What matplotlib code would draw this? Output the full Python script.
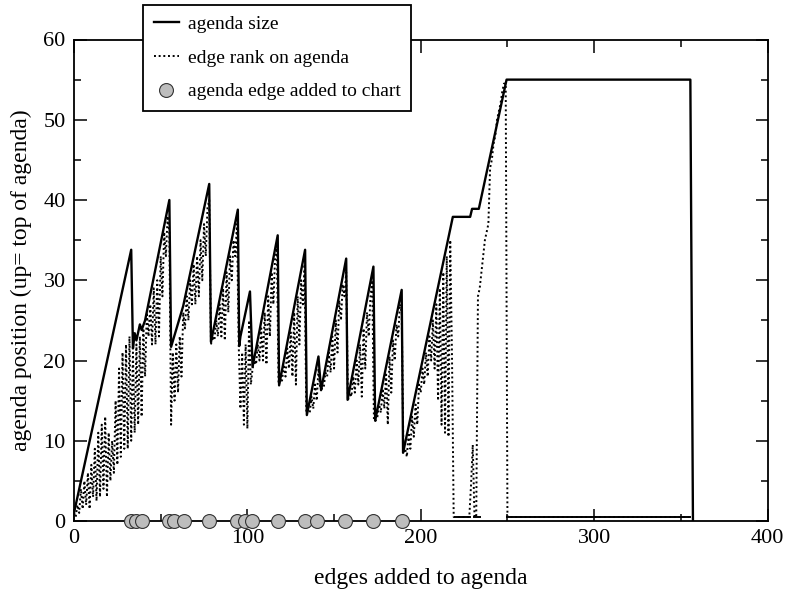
import numpy as np
import matplotlib
matplotlib.use("Agg")
import matplotlib.pyplot as plt
from matplotlib.lines import Line2D

plt.rcParams['font.family'] = ['Liberation Serif', 'DejaVu Serif']

# agenda size (solid line), break points
size_x = [0, 33, 34, 35, 36, 38, 39, 41, 55, 56, 63, 78, 79, 94.5, 95.3, 96, 101.5,
          103, 117.5, 118.3, 133.3, 134.3, 141, 142.5, 157, 157.8, 172.7, 173.7,
          189, 189.8, 218.5, 228.5, 229.6, 233.5, 249.5, 355.5, 357]
size_y = [1, 33.8, 21.5, 23.4, 22.5, 24.5, 23.8, 25, 40, 21.7, 26.8, 42, 22.3, 38.8,
          21.8, 23, 28.6, 19.2, 35.6, 16.9, 33.8, 13.2, 20.5, 16.3, 32.7, 15.1, 31.7,
          12.5, 28.8, 8.5, 37.9, 37.9, 38.9, 38.9, 55, 55, 0]

# edge rank on agenda (dotted line), one value per edge 0..250, then the tail
rank_y = [
    1, 0.5, 2, 1, 4, 1.5, 5, 2, 6, 1.5,            # 0
    7, 3, 9, 2.5, 11, 3, 12, 4, 13, 3,             # 10
    11, 5, 10, 6, 15, 7, 19, 8, 21, 9,             # 20
    22, 9, 23, 10, 21, 11, 22, 12, 23, 13,         # 30
    24, 18, 26, 23, 27, 22, 29, 22, 30, 23,        # 40
    33, 28, 36, 33, 38, 36, 12, 21, 15, 22,        # 50
    16, 23, 18, 26, 24, 28, 25, 30, 27, 32,        # 60
    27, 33, 28, 35, 30, 37, 33, 39, 40, 22,        # 70
    23, 22.5, 25, 23, 27, 23, 29, 22.5, 31, 26,    # 80
    33, 30, 35, 33, 37, 22, 14, 21, 12, 22,        # 90
    11.5, 25, 17, 19, 20, 19.5, 22, 20, 24, 20,    # 100
    26, 19.5, 28, 23, 31, 27, 33, 34, 17, 17.5,    # 110
    17.5, 19.5, 18, 21.5, 19, 23.5, 18, 26, 17, 28, # 120
    22, 30, 27, 32, 13.5, 13.8, 13.5, 15.5, 14, 17, # 130
    15, 19, 16.5, 16.5, 16.5, 18.5, 18, 21, 18.5, 23, # 140
    19, 25, 21, 27.5, 25, 29.5, 28, 31, 15, 16,    # 150
    15.5, 18, 16, 20, 17, 22, 15.5, 24, 19, 26,    # 160
    23, 28, 30, 12.5, 12.5, 13, 14.5, 13.5, 16.5, 14, # 170
    18.5, 12, 20.5, 16, 22.5, 20, 24.5, 23, 27, 26, # 180
    8.5, 9, 8, 11, 9, 13, 10.5, 14.5, 12, 17,      # 190
    16, 19, 17, 21, 18, 23, 20, 25, 19, 27,        # 200
    15, 29, 12, 31, 11, 33, 10.5, 35, 21, 0.5,     # 210
    0.5, 0.5, 0.5, 0.5, 0.5, 0.5, 0.5, 0.5, 0.5, 4.5, # 220
    9.5, 0.5, 0.5, 28, 29, 31, 33, 35, 36, 37,     # 230
    44, 45, 47, 48, 50, 51, 52, 53.5, 54.5, 54.5,  # 240
    0.5, 0.5,                                       # 250, 355
]
rank_x = list(range(251)) + [355]

# parts of the rank line that sit flat at the bottom (drawn solid in the original)
flat_x = [219.5, 228.5, np.nan, 231, 234, np.nan, 250, 355.5]
flat_y = [0.5, 0.5, np.nan, 0.5, 0.5, np.nan, 0.5, 0.5]

# agenda edges added to chart
chart_x = [32.7, 35.6, 39.4, 54.8, 57.7, 63.5, 77.9, 94.2, 98.4, 102.5,
           117.9, 133.3, 140, 156.3, 172.7, 189]
chart_y = [0] * len(chart_x)

dots = (0, (1, 1.4))

fig = plt.figure(figsize=(7.85, 5.9), dpi=100)
ax = fig.add_axes([74 / 785, 1 - 521 / 590, 693.5 / 785, 481.5 / 590])

ax.plot(rank_x, rank_y, color='black', lw=1.4, ls=dots)
ax.plot(flat_x, flat_y, color='black', lw=1.4)
ax.plot(size_x, size_y, color='black', lw=1.7)
ax.plot(chart_x, chart_y, ls='none', marker='o', ms=10, mfc='#bdbdbd',
        mec='#333333', mew=0.8, clip_on=False, zorder=4)

ax.set_xlim(0, 400)
ax.set_ylim(0, 60)
ax.set_xticks([0, 100, 200, 300, 400])
ax.set_xticks([50, 150, 250, 350], minor=True)
ax.set_yticks(range(0, 61, 10))
ax.set_yticks(range(5, 60, 10), minor=True)
ax.tick_params(which='both', direction='in', top=True, right=True, width=1.1,
               labelsize=16)
ax.tick_params(which='major', length=9)
ax.tick_params(which='minor', length=5)
ax.tick_params(axis='x', pad=6)
ax.tick_params(axis='y', pad=6)
for s in ax.spines.values():
    s.set_linewidth(1.3)

ax.set_xlabel('edges added to agenda', fontsize=17, labelpad=14)
ax.set_ylabel('agenda position (up= top of agenda)', fontsize=17, labelpad=8)

handles = [
    Line2D([], [], color='black', lw=1.7),
    Line2D([], [], color='black', lw=1.4, ls=dots),
    Line2D([], [], ls='none', marker='o', ms=10, mfc='#bdbdbd', mec='#333333', mew=0.8),
]
labels = ['agenda size', 'edge rank on agenda', 'agenda edge added to chart']
leg = ax.legend(handles, labels, loc='upper left', bbox_to_anchor=(143 / 785, 1 - 5 / 590),
                bbox_transform=fig.transFigure, fontsize=14, fancybox=False,
                framealpha=1, edgecolor='black', borderpad=0.55, labelspacing=0.82,
                handlelength=1.3, handletextpad=0.45, borderaxespad=0)
leg.get_frame().set_linewidth(1.3)
leg.set_zorder(10)

fig.savefig('out.png', dpi=100)
